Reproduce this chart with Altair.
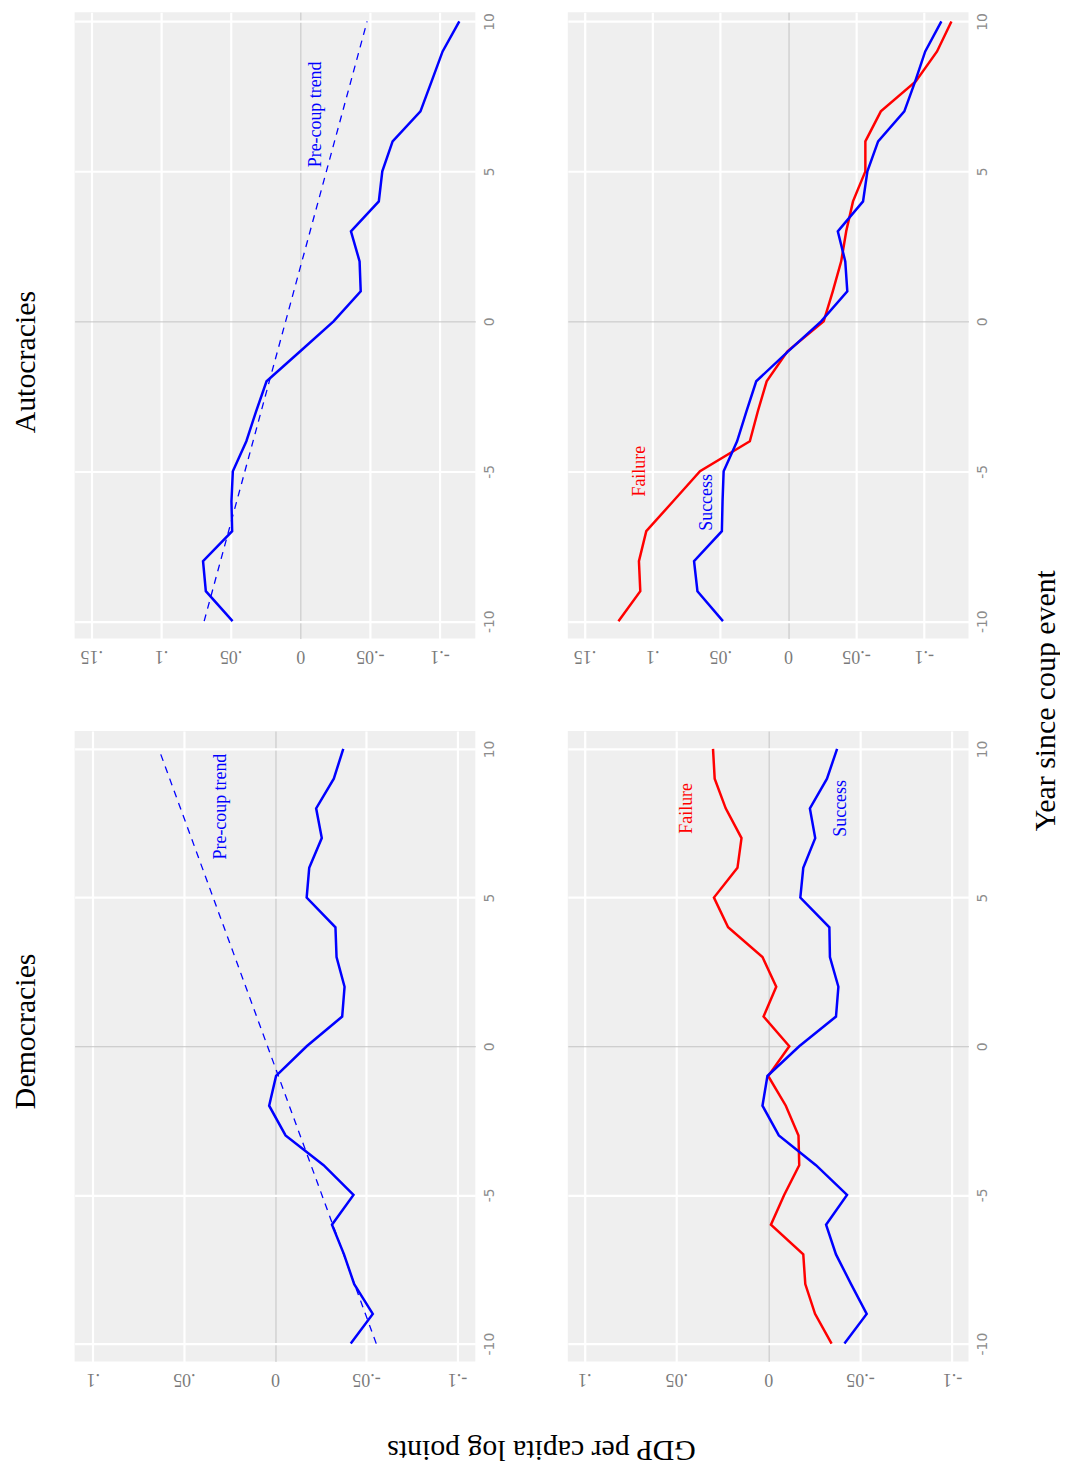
import altair as alt
import pandas as pd

# ---------------- data ----------------
YEARS = list(range(-10, 11))
TREND_YEARS = [-10, 10]

AUT_ALL = [0.0486, 0.0678, 0.0698, 0.0489, 0.0494, 0.0484, 0.0387, 0.0317, 0.0242, 0.0000,
           -0.0239, -0.0434, -0.0426, -0.0364, -0.0564, -0.0589, -0.0663, -0.0863, -0.0943, -0.1022, -0.1142]
AUT_TREND = [0.069, -0.048]
AUT_SUCCESS = [0.0480, 0.0668, 0.0693, 0.0488, 0.0483, 0.0475, 0.0376, 0.0307, 0.0235, 0.0000,
               -0.0243, -0.0436, -0.0421, -0.0366, -0.0552, -0.0584, -0.0663, -0.0856, -0.0936, -0.1010, -0.1129]
AUT_FAILURE = [0.1250, 0.1089, 0.1099, 0.1045, 0.0847, 0.0649, 0.0282, 0.0223, 0.0158, 0.0005,
               -0.0262, -0.0329, -0.0391, -0.0428, -0.0478, -0.0569, -0.0569, -0.0683, -0.0940, -0.1097, -0.1203]

DEM_ALL = [-0.0416, -0.0537, -0.0435, -0.0379, -0.0313, -0.0431, -0.0267, -0.0058, 0.0032, -0.0006,
           -0.0174, -0.0369, -0.0382, -0.0338, -0.0332, -0.0174, -0.0188, -0.0257, -0.0226, -0.0323, -0.0375]
DEM_TREND = [-0.0556, 0.0638]
DEM_SUCCESS = [-0.0415, -0.0536, -0.0451, -0.0369, -0.0315, -0.0429, -0.0260, -0.0058, 0.0031, 0.0004,
               -0.0169, -0.0369, -0.0382, -0.0336, -0.0333, -0.0175, -0.0191, -0.0256, -0.0227, -0.0320, -0.0375]
DEM_FAILURE = [-0.0345, -0.0255, -0.0202, -0.0191, -0.0015, -0.0087, -0.0169, -0.0165, -0.0096, 0.0000,
               -0.0115, 0.0025, -0.0044, 0.0031, 0.0218, 0.0295, 0.0167, 0.0145, 0.0231, 0.0291, 0.0300]

# annotation labels: (text, year, value, colour)
AUT_TREND_LABELS = [("Pre-coup trend", 6.9, -0.0114, "blue")]
DEM_TREND_LABELS = [("Pre-coup trend", 8.06, 0.0298, "blue")]
AUT_FS_LABELS = [("Failure", -5.0, 0.109, "red"), ("Success", -6.04, 0.0595, "blue")]
DEM_FS_LABELS = [("Failure", 8.0, 0.0444, "red"), ("Success", 8.0, -0.0398, "blue")]

TOP_TICKS = [-0.1, -0.05, 0, 0.05, 0.1, 0.15]
BOT_TICKS = [-0.1, -0.05, 0, 0.05, 0.1]
YEAR_TICKS = [-10, -5, 0, 5, 10]

# ---------------- style ----------------
SERIF = "Liberation Serif"
SANS = "DejaVu Sans"
COLORS = {"blue": "#0000ff", "red": "#ff0000"}

GDP_LABEL = ("datum.value == 0 ? '0' : (datum.value < 0 ? '-' : '') + "
             "replace(format(abs(datum.value), '.2~f'), '0.', '.')")
YEAR_LABEL = "datum.value < 0 ? '-' + abs(datum.value) : '' + datum.value"


def encodings(xdomain, ticks, ydomain, xtitle_kw=None, ytitle_kw=None):
    xkw = dict(values=ticks, labelExpr=GDP_LABEL, labelAngle=180, labelAlign="center",
               labelBaseline="alphabetic", labelFont=SERIF, labelFontSize=18,
               labelColor="#7a7a7a", labelPadding=12, orient="bottom")
    if xtitle_kw:
        xkw.update(xtitle_kw)
    else:
        xkw["title"] = None
    ykw = dict(values=YEAR_TICKS, labelExpr=YEAR_LABEL, labelAngle=270, labelAlign="center",
               labelBaseline="top", labelFont=SANS, labelFontSize=14,
               labelColor="#8c8c8c", labelPadding=7, orient="right")
    if ytitle_kw:
        ykw.update(ytitle_kw)
    else:
        ykw["title"] = None
    x = alt.X("value:Q", scale=alt.Scale(domain=xdomain, reverse=True, nice=False, zero=False),
              axis=alt.Axis(**xkw))
    y = alt.Y("year:Q", scale=alt.Scale(domain=ydomain, nice=False, zero=False),
              axis=alt.Axis(**ykw))
    return x, y


def line_layer(years, values, color, x, y, width=2.5, dash=None):
    df = pd.DataFrame({"year": years, "value": values})
    kw = dict(color=COLORS[color], strokeWidth=width)
    if dash:
        kw["strokeDash"] = dash
    return alt.Chart(df).mark_line(**kw).encode(x=x, y=y, order=alt.Order("year:Q"))


def text_layer(labels, x, y):
    df = pd.DataFrame({"label": [l[0] for l in labels], "year": [l[1] for l in labels],
                       "value": [l[2] for l in labels],
                       "col": [COLORS[l[3]] for l in labels]})
    return alt.Chart(df).mark_text(angle=270, font=SERIF, fontSize=18, align="center",
                                   baseline="middle").encode(
        x=x, y=y, text="label:N", color=alt.Color("col:N", scale=None))


TOP_H, BOT_H = 630, 634
W = 403
TOP_Y = [-10.58, 10.31]
BOT_Y = [-10.6, 10.6]

# Autocracies, pre-coup trend
x, y = encodings([-0.1257, 0.162], TOP_TICKS, TOP_Y)
aut_trend = alt.layer(
    line_layer(TREND_YEARS, AUT_TREND, "blue", x, y, width=1.3, dash=[7, 6]),
    line_layer(YEARS, AUT_ALL, "blue", x, y),
    text_layer(AUT_TREND_LABELS, x, y),
).properties(width=W, height=TOP_H,
             title=alt.TitleParams("Autocracies", orient="left", anchor="middle", frame="group",
                                   font=SERIF, fontSize=30, fontWeight="normal", color="black",
                                   offset=34, dx=-37))

# Autocracies, failure / success
x, y = encodings([-0.1329, 0.1623], TOP_TICKS, TOP_Y,
                 ytitle_kw=dict(title="Year since coup event", titleFont=SERIF, titleFontSize=30,
                                titleFontWeight="normal", titleColor="black", titleAngle=270,
                                titleAlign="center", titleBaseline="alphabetic",
                                titleX=86, titleY=692))
aut_fs = alt.layer(
    line_layer(YEARS, AUT_FAILURE, "red", x, y),
    line_layer(YEARS, AUT_SUCCESS, "blue", x, y),
    text_layer(AUT_FS_LABELS, x, y),
).properties(width=W, height=TOP_H)

# Democracies, pre-coup trend
x, y = encodings([-0.110, 0.110], BOT_TICKS, BOT_Y,
                 xtitle_kw=dict(title="GDP per capita log points", titleFont=SERIF, titleFontSize=30,
                                titleFontWeight="normal", titleColor="black", titleAngle=180,
                                titleAlign="center", titleBaseline="alphabetic",
                                titleX=469, titleY=80))
dem_trend = alt.layer(
    line_layer(TREND_YEARS, DEM_TREND, "blue", x, y, width=1.3, dash=[7, 6]),
    line_layer(YEARS, DEM_ALL, "blue", x, y),
    text_layer(DEM_TREND_LABELS, x, y),
).properties(width=W, height=BOT_H,
             title=alt.TitleParams("Democracies", orient="left", anchor="middle", frame="group",
                                   font=SERIF, fontSize=30, fontWeight="normal", color="black",
                                   offset=34, dx=15))

# Democracies, failure / success
x, y = encodings([-0.109, 0.109], BOT_TICKS, BOT_Y)
dem_fs = alt.layer(
    line_layer(YEARS, DEM_FAILURE, "red", x, y),
    line_layer(YEARS, DEM_SUCCESS, "blue", x, y),
    text_layer(DEM_FS_LABELS, x, y),
).properties(width=W, height=BOT_H)

chart = alt.concat(aut_trend, aut_fs, dem_trend, dem_fs, columns=2, spacing=93,
                   bounds="flush").properties(
    padding={"left": 2, "top": 0, "right": 0, "bottom": 0}
).configure_view(fill="#efefef", strokeWidth=0).configure_axis(
    domain=False, ticks=False, grid=True,
    gridColor={"condition": {"test": "datum.value === 0", "value": "#c4c4c4"}, "value": "white"},
    gridWidth={"condition": {"test": "datum.value === 0", "value": 1}, "value": 2.2},
).configure_title(fontWeight="normal")

chart.save("out.html", embed_options={"renderer": "svg", "actions": False})
